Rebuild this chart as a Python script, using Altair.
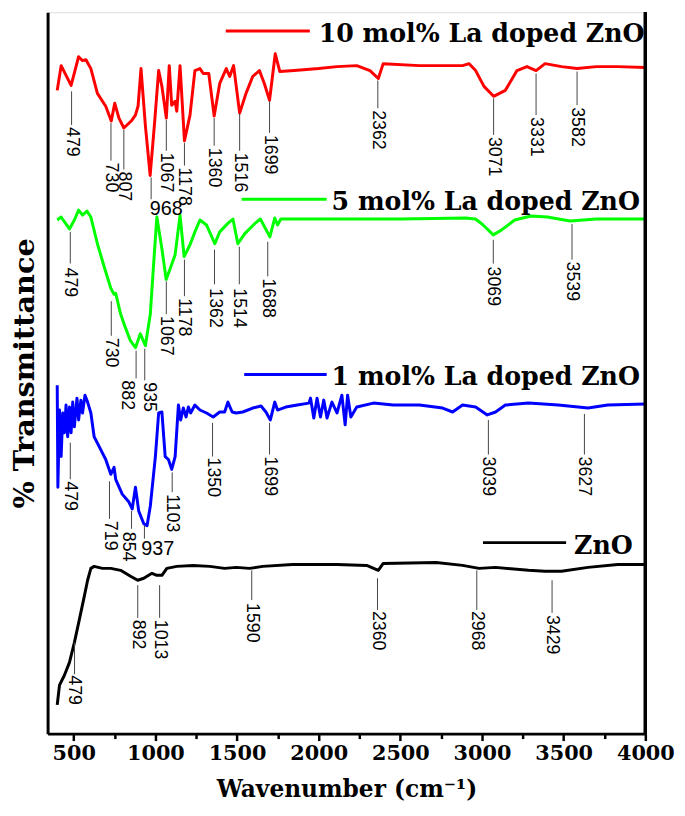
import altair as alt
import pandas as pd

# ---------------- spectra (wavenumber, transmittance in arbitrary stacked units) ----------------
red_wn = [399, 423, 484, 530, 554, 575, 605, 645, 696, 730, 751, 777, 807, 852, 878, 894, 912, 939, 968, 995,
          1020, 1040, 1067, 1085, 1100, 1121, 1131, 1151, 1178, 1212, 1242, 1273, 1293, 1327, 1360, 1394, 1434,
          1455, 1479, 1516, 1555, 1596, 1637, 1667, 1699, 1734, 1762, 1850, 2000, 2112, 2233, 2314, 2365, 2395,
          2617, 2881, 2921, 2961, 3012, 3071, 3143, 3214, 3275, 3331, 3386, 3487, 3582, 3700, 3831, 4000]
red_t = [650, 675, 655, 684, 680, 681, 672, 647, 634, 619, 637, 622, 612, 619, 625, 634, 672, 614, 564, 617,
         670, 654, 622, 675, 635, 639, 629, 675, 599, 625, 670, 672, 667, 667, 624, 657, 672,
         664, 675, 627, 647, 664, 670, 657, 640, 687, 669, 670, 672, 674, 675, 670, 662, 677,
         675, 675, 677, 670, 654, 644, 650, 670, 674, 670, 677, 674, 672, 674, 674, 673]

green_wn = [399, 423, 474, 504, 530, 554, 581, 605, 645, 686, 727, 747, 757, 787, 817, 847, 878, 908, 939, 969,
            989, 1009, 1040, 1066, 1091, 1121, 1151, 1176, 1212, 1242, 1273, 1313, 1364, 1394, 1440, 1475, 1505,
            1546, 1606, 1643, 1701, 1731, 1748, 1768, 2000, 2500, 2900, 2960, 3000, 3069, 3120, 3200, 3300,
            3400, 3539, 3700, 4000]
green_t = [519, 522, 510, 519, 529, 524, 528, 522, 495, 472, 450, 444, 445, 424, 410, 397, 390, 404, 392, 424,
           474, 522, 490, 459, 470, 484, 524, 482, 494, 507, 519, 514, 495, 507, 515, 520, 495,
           505, 515, 520, 502, 521, 514, 520, 520, 520, 521, 520, 515, 504, 509, 519, 523,
           522, 518, 520, 520]

blue_wn = [399, 403, 413, 423, 433, 443, 453, 463, 474, 484, 494, 504, 520, 530, 544, 554, 569, 585, 605, 625,
           656, 696, 727, 747, 757, 797, 838, 858, 878, 898, 929, 949, 969, 1000, 1020, 1040, 1060, 1080, 1100,
           1121, 1141, 1155, 1171, 1188, 1202, 1216, 1242, 1273, 1313, 1354, 1394, 1424, 1444, 1470, 1495, 1535,
           1596, 1647, 1677, 1704, 1731, 1748, 1798, 1869, 1940, 1950, 1970, 1990, 2011, 2031, 2051, 2081, 2112,
           2142, 2162, 2177, 2197, 2233, 2335, 2456, 2617, 2759, 2820, 2881, 2961, 3032, 3083, 3143, 3285, 3467,
           3649, 3770, 4000]
blue_t = [352, 249, 327, 280, 324, 304, 332, 300, 330, 304, 335, 310, 339, 317, 337, 324, 342, 335, 324, 300,
          290, 277, 262, 269, 257, 242, 234, 227, 249, 225, 212, 210, 230, 280, 324, 325, 280, 277, 267,
          280, 332, 317, 329, 320, 330, 324, 332, 327, 324, 320, 325, 325, 335, 325, 324, 325,
          329, 331, 325, 317, 335, 327, 330, 332, 334, 339, 319, 339, 320, 337, 319, 335, 324,
          342, 312, 342, 320, 330, 334, 332, 332, 329, 325, 332, 330, 322, 325, 332, 334, 332,
          329, 332, 333]

black_wn = [399, 413, 443, 474, 504, 534, 565, 585, 605, 625, 676, 727, 787, 848, 892, 929, 979, 1009, 1040, 1070,
            1131, 1232, 1333, 1424, 1495, 1576, 1657, 1839, 2112, 2294, 2365, 2395, 2719, 2881, 2982, 3083, 3285,
            3386, 3487, 3649, 3831, 4000]
black_t = [29, 49, 59, 72, 92, 115, 139, 155, 167, 169, 167, 167, 165, 159, 155, 157, 162, 160, 160, 167,
           169, 170, 169, 167, 168, 167, 169, 171, 171, 170, 165, 172, 173, 170, 167, 168, 165,
           164, 164, 168, 171, 171]

series_names = ["10 mol% La doped ZnO", "5 mol% La doped ZnO", "1 mol% La doped ZnO", "ZnO"]
series_colors = ["#ff0000", "#00ff00", "#0000ff", "#000000"]

# ---------------- peak annotations ----------------
# label, line wavenumber, line top, line bottom, text wavenumber, text start (transmittance units)
pk_label = ["479", "730", "807", "1067", "1178", "1360", "1516", "1699", "2362", "3071", "3331", "3582",
            "479", "730", "882", "935", "1067", "1178", "1362", "1514", "1688", "3069", "3539",
            "479", "719", "854", "1103", "1350", "1699", "3039", "3627",
            "479", "892", "1013", "1590", "2360", "2968", "3429"]
pk_line_wn = [487, 728, 807, 1067, 1178, 1360, 1516, 1699, 2362, 3071, 3331, 3582,
              479, 730, 882, 935, 1067, 1178, 1362, 1514, 1688, 3069, 3551,
              479, 719, 854, 1103, 1350, 1699, 3039, 3627,
              505, 892, 1026, 1590, 2360, 2968, 3429]
pk_top = [649, 617, 610, 620, 597, 622, 627, 639, 660, 642, 667, 669,
          507, 437, 387, 389, 457, 479, 489, 492, 497, 499, 515,
          294, 255, 225, 264, 314, 314, 317, 323,
          92, 150, 150, 165, 157, 165, 155]
pk_bot = [615, 579, 570, 589, 574, 594, 589, 607, 632, 605, 625, 635,
          475, 402, 359, 357, 424, 442, 454, 454, 462, 475, 479,
          257, 217, 207, 244, 280, 282, 282, 282,
          60, 117, 117, 135, 125, 125, 122]
pk_text_wn = [487, 728, 807, 1067, 1178, 1360, 1516, 1699, 2362, 3071, 3331, 3582,
              479, 730, 828, 959, 1067, 1178, 1362, 1514, 1688, 3069, 3551,
              479, 719, 835, 1103, 1350, 1699, 3039, 3627,
              500, 892, 1026, 1590, 2360, 2968, 3429]
pk_text_t = [613, 577, 568, 587, 572, 592, 587, 605, 630, 603, 623, 633,
             471, 400, 357, 355, 422, 440, 450, 450, 460, 472, 477,
             255, 215, 204, 242, 279, 280, 280, 280,
             59, 115, 115, 132, 124, 124, 120]

# horizontal peak labels (968 on 10 mol%, 937 on 1 mol%)
hz_label = ["968", "937"]
hz_line_wn = [974, 933]
hz_top = [562, 210]
hz_bot = [540, 197]
hz_text_wn = [966, 914]
hz_text_t = [540, 197]

# series captions drawn beside each trace
cap_x1 = [1431, 1528, 1544, 3006]
cap_x2 = [1946, 2049, 2049, 3515]
cap_t = [710, 540, 363, 193]
cap_text_wn = [2000, 2079, 2079, 3564]

x_ticks = list(range(500, 4001, 250))

# ---------------- tables ----------------
frames = []
for name, wn, tt in zip(series_names, [red_wn, green_wn, blue_wn, black_wn], [red_t, green_t, blue_t, black_t]):
    frames.append(pd.DataFrame({"series": name, "wn": wn, "t": tt}))
spec = pd.concat(frames, ignore_index=True)

peaks = pd.DataFrame({"label": pk_label, "lx": pk_line_wn, "top": pk_top, "bot": pk_bot,
                      "tx": pk_text_wn, "tt": pk_text_t})
hpeaks = pd.DataFrame({"label": hz_label, "lx": hz_line_wn, "top": hz_top, "bot": hz_bot,
                       "tx": hz_text_wn, "tt": hz_text_t})
caps = pd.DataFrame({"series": series_names, "x1": cap_x1, "x2": cap_x2, "t": cap_t, "tx": cap_text_wn})

W, H = 604, 729
xscale = alt.Scale(domain=[340, 4000], nice=False, zero=False)
yscale = alt.Scale(domain=[0, 729], nice=False, zero=False)
cscale = alt.Scale(domain=series_names, range=series_colors)

serif = "DejaVu Serif"
sans = "Liberation Sans"

xaxis = alt.Axis(
    values=x_ticks, format="d",
    labelExpr="datum.value % 500 === 0 ? datum.label : ''",
    title="Wavenumber (cm\u207b\u00b9)", titleFont=serif, titleFontSize=23.5, titleFontWeight="bold",
    titleColor="black", titlePadding=15,
    labelFont=serif, labelFontSize=21, labelFontWeight="bold", labelColor="black", labelPadding=2,
    tickSize={"condition": {"test": "datum.value % 500 === 0", "value": 7}, "value": 5},
    tickWidth=2.5, tickColor="black", domainColor="black", domainWidth=3, grid=False,
    labelOverlap=False, labelFlush=False,
)
yaxis = alt.Axis(
    title="% Transmittance", titleFont=serif, titleFontSize=29, titleFontWeight="bold", titleColor="black",
    labels=False, ticks=False, domainColor="black", domainWidth=3, grid=False, titlePadding=8,
)

lines = alt.Chart(spec).mark_line(strokeWidth=3, strokeJoin="round").encode(
    x=alt.X("wn:Q", scale=xscale, axis=xaxis),
    y=alt.Y("t:Q", scale=yscale, axis=yaxis),
    color=alt.Color("series:N", scale=cscale, legend=None),
    detail="series:N",
    order="wn:Q",
)

leaders = alt.Chart(peaks).mark_rule(color="#444444", strokeWidth=1).encode(
    x="lx:Q", y="top:Q", y2="bot:Q")
labels = alt.Chart(peaks).mark_text(angle=90, align="left", baseline="middle", font=sans,
                                    fontSize=18, color="black").encode(
    x="tx:Q", y="tt:Q", text="label:N")

hleaders = alt.Chart(hpeaks).mark_rule(color="#444444", strokeWidth=1).encode(
    x="lx:Q", y="top:Q", y2="bot:Q")
hlabels = alt.Chart(hpeaks).mark_text(angle=0, align="left", baseline="top", font=sans,
                                      fontSize=20, color="black").encode(
    x="tx:Q", y="tt:Q", text="label:N")

cap_lines = alt.Chart(caps).mark_rule(strokeWidth=3).encode(
    x="x1:Q", x2="x2:Q", y="t:Q", color=alt.Color("series:N", scale=cscale, legend=None))
cap_text = alt.Chart(caps).mark_text(align="left", baseline="middle", dy=3, font=serif, fontSize=25.5,
                                     fontWeight="bold", color="black").encode(
    x="tx:Q", y="t:Q", text="series:N")

border = alt.Chart(caps).mark_rule(color="black", strokeWidth=3).encode(
    x=alt.datum(4000), y=alt.value(0), y2=alt.value(H))

chart = alt.layer(lines, leaders, labels, hleaders, hlabels, cap_lines, cap_text, border).properties(
    width=W, height=H,
    autosize=alt.AutoSizeParams(type="none"),
    padding={"left": 40, "top": 0, "right": 32, "bottom": 79},
).configure_view(stroke=None).configure(background="white")

chart.save("out.html", embed_options={"renderer": "svg", "actions": False})
